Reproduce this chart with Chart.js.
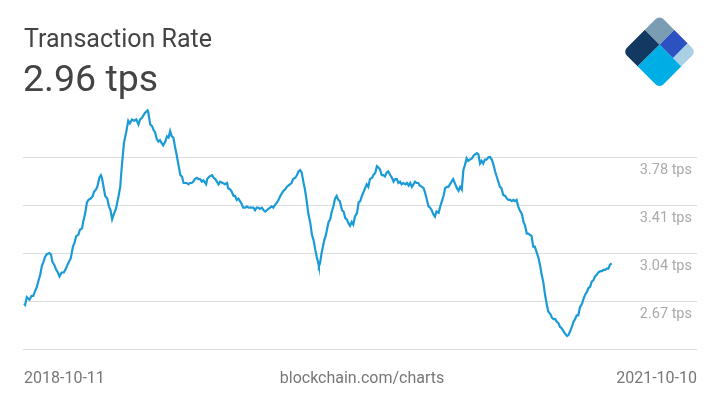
<!DOCTYPE html>
<html>
<head>
<meta charset="utf-8">
<script src="https://cdn.jsdelivr.net/npm/chart.js@4/dist/chart.umd.min.js"></script>
<style>
  html, body { margin: 0; padding: 0; background: #fff; }
  body { width: 720px; height: 405px; position: relative; overflow: hidden; font-family: Roboto, sans-serif; }
  #chart { position: absolute; left: 0; top: 0; }
  .title { position: absolute; left: 24px; top: 25.6px; font-size: 25px; line-height: 25px; color: #444; }
  .value { position: absolute; left: 23px; top: 59.6px; font-size: 37.5px; line-height: 37.5px; color: #444; }
  .foot { position: absolute; top: 370px; font-size: 16px; line-height: 16px; color: #777; }
  #logo { position: absolute; left: 0; top: 0; }
</style>
</head>
<body>
<canvas id="chart" width="720" height="405"></canvas>
<div class="title">Transaction Rate</div>
<div class="value">2.96 tps</div>
<div class="foot" id="startLabel" style="left:24px"></div>
<div class="foot" id="sourceLabel" style="left:0;width:724px;text-align:center"></div>
<div class="foot" id="endLabel" style="right:23px"></div>
<svg id="logo" width="720" height="100">
  <defs>
    <clipPath id="logoClip"><rect x="0" y="0" width="52" height="52" rx="6" ry="6"/></clipPath>
  </defs>
  <g transform="translate(659.5,15) rotate(45)" clip-path="url(#logoClip)">
    <rect x="0" y="0" width="21" height="21" fill="#7b9db3"/>
    <rect x="0" y="21" width="21" height="31" fill="#123961"/>
    <rect x="21" y="0" width="19" height="21" fill="#2b52c0"/>
    <rect x="40" y="0" width="12" height="21" fill="#aad0e6"/>
    <rect x="21" y="21" width="31" height="31" fill="#00aee6"/>
  </g>
</svg>
<script>
// days since 2018-10-11, transactions per second
const startDate = "2018-10-11";
const endDate = "2021-10-10";
const sourceText = "blockchain.com/charts";

const days = [
  0,2,5,10,14,17,20,24,27,30,
  33,36,39,42,47,50,53,56,60,63,
  66,70,74,78,82,87,91,94,97,101,
  104,108,110,114,117,120,124,128,130,134,
  137,140,143,145,148,151,155,158,161,164,
  168,171,176,179,182,
  186,190,194,197,
  201,205,209,213,216,219,222,225,230,231,
  235,238,241,244,247,250,253,256,259,263,
  266,269,272,275,278,281,284,287,291,294,
  297,300,303,306,309,312,315,318,322,325,
  328,331,334,339,341,345,350,353,356,359,
  362,365,370,374,378,380,384,387,390,393,
  396,399,402,405,408,412,415,418,421,424,
  427,430,433,436,439,443,446,449,452,455,
  458,461,464,467,471,474,477,480,483,486,
  489,492,495,498,501,505,508,511,514,517,
  520,523,526,529,533,536,539,542,545,548,
  549,551,554,559,562,567,570,573,576,579,
  582,585,588,592,595,598,601,604,607,610,
  613,616,620,623,626,629,632,635,638,641,
  644,648,650,654,657,660,663,666,669,672,
  675,678,682,685,688,691,694,697,700,703,
  706,710,713,716,719,722,725,728,731,734,737,
  741,744,747,750,753,756,759,762,765,
  768,772,775,778,781,784,787,790,793,796,
  799,803,806,809,812,815,818,821,824,827,
  830,834,837,840,843,846,849,852,855,858,
  861,865,868,871,874,877,880,883,886,889,
  892,896,899,902,905,908,911,914,917,920,923,
  927,930,933,936,939,942,945,948,951,
  955,958,961,964,967,970,973,976,980,983,
  986,989,992,995,998,1001,1004,1007,1011,1014,
  1017,1020,1023,1026,1029,1032,1035,1039,1042,1045,
  1048,1051,1054,1057,1060,1063,1066,1069,1073,1076,
  1079,1082,1085,1088,1091,1094
];

const rates = [
  2.65,2.64,2.70,2.68,2.71,2.71,2.74,2.78,2.83,2.87,
  2.94,2.97,3.01,3.03,3.04,3.03,2.97,2.95,2.91,2.89,
  2.86,2.89,2.89,2.92,2.96,3.00,3.09,3.12,3.17,3.18,
  3.22,3.23,3.28,3.35,3.43,3.45,3.46,3.48,3.51,3.53,
  3.56,3.62,3.64,3.62,3.55,3.48,3.46,3.40,3.37,3.30,
  3.35,3.38,3.48,3.55,3.71,
  3.89,3.97,4.06,4.04,
  4.07,4.06,4.07,4.03,4.07,4.08,4.10,4.12,4.14,4.13,
  4.03,4.02,3.99,3.97,3.92,3.90,3.91,3.89,3.87,3.90,
  3.94,3.93,3.98,3.94,3.93,3.86,3.80,3.73,3.64,3.63,
  3.58,3.58,3.58,3.57,3.58,3.58,3.59,3.61,3.62,3.61,
  3.61,3.59,3.60,3.57,3.61,3.63,3.64,3.62,3.61,3.59,
  3.57,3.59,3.58,3.57,3.58,3.54,3.53,3.51,3.48,3.48,
  3.45,3.46,3.44,3.42,3.39,3.39,3.40,3.39,3.39,3.39,
  3.39,3.37,3.39,3.39,3.38,3.39,3.37,3.36,3.37,3.38,
  3.39,3.40,3.39,3.41,3.43,3.45,3.48,3.50,3.52,3.53,
  3.55,3.56,3.57,3.58,3.61,3.62,3.64,3.67,3.68,3.66,
  3.59,3.53,3.45,3.35,3.27,3.18,3.14,3.07,3.01,2.96,
  2.94,2.96,3.04,3.14,3.18,3.28,3.30,3.36,3.40,3.46,
  3.48,3.45,3.44,3.37,3.36,3.31,3.30,3.27,3.25,3.28,
  3.26,3.32,3.35,3.43,3.44,3.48,3.51,3.54,3.57,3.55,
  3.61,3.62,3.64,3.66,3.71,3.70,3.68,3.64,3.64,3.63,
  3.66,3.67,3.64,3.62,3.59,3.61,3.61,3.58,3.59,3.57,
  3.58,3.57,3.58,3.56,3.58,3.55,3.57,3.59,3.58,3.58,3.56,
  3.55,3.54,3.50,3.45,3.40,3.39,3.37,3.34,3.32,
  3.36,3.35,3.40,3.44,3.48,3.54,3.55,3.55,3.57,3.59,
  3.61,3.57,3.54,3.52,3.55,3.53,3.68,3.72,3.77,3.75,
  3.76,3.77,3.79,3.80,3.81,3.80,3.73,3.75,3.73,3.76,
  3.76,3.78,3.78,3.76,3.72,3.67,3.63,3.59,3.55,3.54,
  3.49,3.48,3.46,3.45,3.45,3.44,3.45,3.44,3.45,3.40,3.37,
  3.34,3.28,3.25,3.19,3.19,3.18,3.17,3.09,3.09,
  3.04,3.00,2.94,2.87,2.81,2.72,2.65,2.59,2.57,2.54,
  2.53,2.53,2.51,2.50,2.47,2.46,2.44,2.42,2.40,2.41,
  2.44,2.47,2.51,2.53,2.56,2.56,2.62,2.65,2.69,2.72,
  2.74,2.77,2.78,2.82,2.83,2.86,2.87,2.89,2.90,2.90,
  2.91,2.91,2.92,2.92,2.95,2.96
];

const yTicks = [2.30, 2.67, 3.04, 3.41, 3.78];

document.getElementById("startLabel").textContent = startDate;
document.getElementById("endLabel").textContent = endDate;
document.getElementById("sourceLabel").textContent = sourceText;

const points = days.map(function (d, i) { return { x: d, y: rates[i] }; });

new Chart(document.getElementById("chart").getContext("2d"), {
  type: "line",
  data: {
    datasets: [{
      label: "Transaction Rate",
      data: points,
      borderColor: "#1a9ad6",
      borderWidth: 2.2,
      pointRadius: 0,
      tension: 0,
      fill: false
    }]
  },
  options: {
    responsive: false,
    animation: false,
    devicePixelRatio: 1,
    layout: { padding: { left: 23, right: 23, top: 100, bottom: 56 } },
    plugins: { legend: { display: false }, tooltip: { enabled: false } },
    scales: {
      x: {
        type: "linear",
        min: -2,
        max: 1253,
        display: false
      },
      y: {
        position: "right",
        min: 2.30,
        max: 4.22,
        border: { display: false },
        grid: { color: "#dddddd", lineWidth: 1, drawTicks: false },
        afterBuildTicks: function (scale) {
          scale.ticks = yTicks.map(function (v) { return { value: v }; });
        },
        afterFit: function (scale) { scale.width = 0; },
        ticks: {
          mirror: true,
          padding: -5,
          labelOffset: 13,
          color: "#aaaaaa",
          font: { family: "Roboto", size: 14.5 },
          callback: function (v, i) {
            return i === 0 ? "" : Number(v).toFixed(2) + " tps";
          }
        }
      }
    }
  }
});
</script>
</body>
</html>
